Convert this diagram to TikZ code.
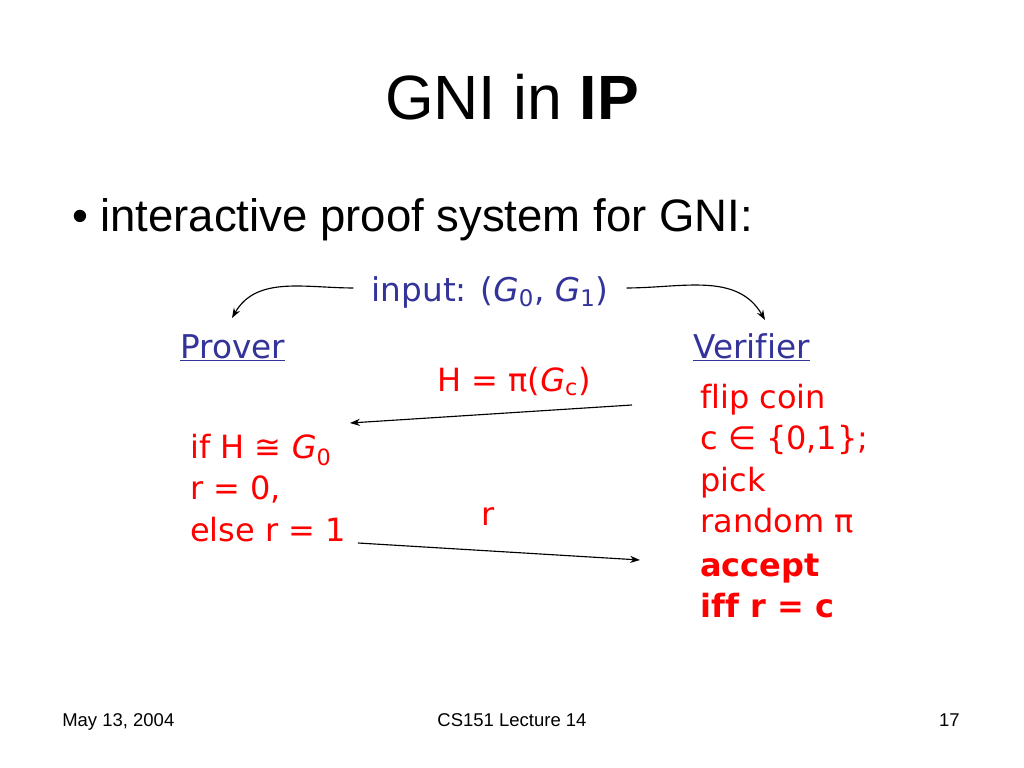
\documentclass[tikz,border=0pt]{standalone}
\usepackage{fontspec}
\setmainfont{Liberation Sans}
\newfontfamily\comicfont[Ligatures=NoCommon]{DejaVu Sans}
\usetikzlibrary{arrows.meta}
\definecolor{SlideBlue}{HTML}{333399}
\definecolor{SlideRed}{HTML}{FF0000}

\begin{document}
\begin{tikzpicture}[x=0.703125pt,y=-0.703125pt,
    bluetext/.style={text=SlideBlue,inner sep=0pt,font=\comicfont\fontsize{23}{28}\selectfont},
    redtext/.style={text=SlideRed,inner sep=0pt,align=left,font=\comicfont\fontsize{22.5}{29}\selectfont},
    msg/.style={-{Stealth[length=7pt,width=5pt]},black,line width=0.8pt}]
  \useasboundingbox[fill=white] (0,0) rectangle (1024,768);

  % Title
  \node[anchor=base,inner sep=0pt,font=\fontsize{44}{50}\selectfont] (title) at (512,120)
    {GNI in \textbf{IP}};

  % Bullet
  \node[anchor=base west,inner sep=0pt,font=\fontsize{32}{36}\selectfont] (bullet) at (72,232)
    {\textbullet};
  \node[anchor=base west,inner sep=0pt,font=\fontsize{32}{36}\selectfont] (line1) at (100,232)
    {interactive proof system for GNI:};

  % Input
  \node[bluetext,anchor=base] (input) at (490,301)
    {input: (\textit{G}\textsubscript{0}, \textit{G}\textsubscript{1})};
  \draw[msg] (input.west) ++(-18,-4) coordinate (inL) to[out=180,in=60] (232,318) coordinate (toP);
  \draw[msg] (input.east) ++(18,-4) coordinate (inR) to[out=0,in=120] (765,320) coordinate (toV);

  % Prover
  \node[bluetext,anchor=base west] (prover) at (180,358) {\underline{Prover}};

  % Verifier
  \node[bluetext,anchor=base west] (verifier) at (693,358) {\underline{Verifier}};

  % Message H
  \node[redtext,anchor=base west] (hmsg) at (437,391) {H = π(\textit{G}\textsubscript{c})};
  \coordinate (hfrom) at (632,405);
  \coordinate (hto) at (350,423);
  \draw[msg] (hfrom) -- (hto);

  % Prover answer
  \node[redtext,anchor=north west] (answer) at (190,434)
    {if H ≅ \textit{G}\textsubscript{0}\\ r = 0,\\ else r = 1};

  % Message r
  \node[redtext,anchor=base west] (rmsg) at (481,525) {r};
  \coordinate (rfrom) at (358,543);
  \coordinate (rto) at (640,560);
  \draw[msg] (rfrom) -- (rto);

  % Verifier steps
  \node[redtext,anchor=north west] (steps) at (700,384)
    {flip coin\\ c ∈ \{0,1\};\\ pick\\ random π\\[2pt] \textbf{accept}\\ \textbf{iff r = c}};

  % Footer
  \node[anchor=base west,inner sep=0pt,font=\fontsize{13}{15}\selectfont] (date) at (62,726) {May 13, 2004};
  \node[anchor=base,inner sep=0pt,font=\fontsize{13}{15}\selectfont] (course) at (512,726) {CS151 Lecture 14};
  \node[anchor=base east,inner sep=0pt,font=\fontsize{13}{15}\selectfont] (page) at (960,726) {17};
\end{tikzpicture}
\end{document}
